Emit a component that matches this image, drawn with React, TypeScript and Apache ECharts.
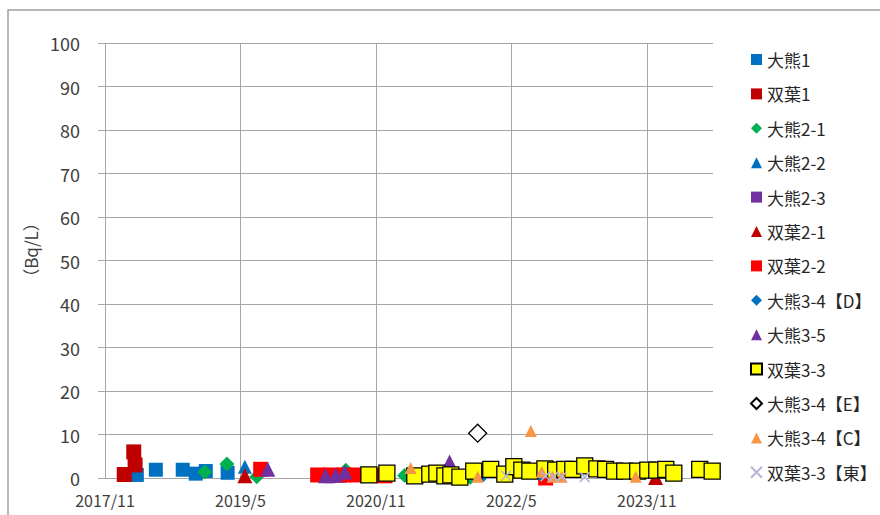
import React, { useEffect, useRef } from "react";
import * as echarts from "echarts";

const FONT = '"Noto Sans CJK JP", "Noto Sans", sans-serif';

// Axis
const X_START = "2017-11-01";
const X_MAX_MONTHS = 80.8;
const X_INTERVAL_MONTHS = 18;
const Y_MIN = 0;
const Y_MAX = 100;
const Y_INTERVAL = 10;
const Y_TITLE = "（Bq/L）";

// Series data: [date, Bq/L]
const ookuma1: [string, number][] = [
  ["2018-03-08", 0.7], ["2018-05-24", 1.9], ["2018-09-11", 1.9],
  ["2018-11-03", 1.0], ["2018-12-13", 1.6], ["2019-03-10", 1.2],
];
const futaba1: [string, number][] = [
  ["2018-01-18", 0.8], ["2018-02-26", 6.0], ["2018-03-01", 3.0],
];
const ookuma2_1: [string, number][] = [
  ["2018-12-09", 1.4], ["2019-03-07", 3.2], ["2019-07-06", 0.3],
  ["2020-07-01", 1.8], ["2021-02-26", 0.6], ["2021-11-18", 0.2],
];
const ookuma2_2: [string, number][] = [["2019-05-19", 2.6]];
const ookuma2_3: [string, number][] = [["2020-04-27", 0.3], ["2020-06-10", 0.4]];
const futaba2_1: [string, number][] = [["2019-05-19", 0.5], ["2023-12-06", 0.1]];
const futaba2_2: [string, number][] = [
  ["2019-07-22", 2.0], ["2020-03-09", 0.7], ["2020-05-01", 0.7],
  ["2020-06-23", 0.7], ["2020-08-16", 0.7], ["2020-10-15", 0.6],
  ["2020-12-07", 0.5], ["2022-09-18", 0.0],
];
const ookuma3_4D: [string, number][] = [
  ["2020-12-14", 0], ["2021-06-21", 0], ["2022-01-10", 0], ["2022-08-28", 0.1],
];
const ookuma3_5: [string, number][] = [
  ["2019-08-20", 2.0], ["2020-04-11", 0.5], ["2020-05-21", 0.7],
  ["2020-06-27", 1.4], ["2021-08-25", 3.7],
];
const futaba3_3: [string, number][] = [
  ["2020-10-03", 0.7], ["2020-12-15", 1.1], ["2021-04-06", 0.5],
  ["2021-06-06", 0.9], ["2021-07-04", 1.1], ["2021-08-06", 0.5],
  ["2021-08-30", 0.7], ["2021-10-06", 0.2], ["2021-12-01", 1.6],
  ["2022-02-09", 2.0], ["2022-04-05", 0.9], ["2022-05-11", 2.6],
  ["2022-06-13", 1.8], ["2022-07-15", 1.6], ["2022-09-15", 2.1],
  ["2022-10-28", 1.8], ["2022-12-04", 2.0], ["2023-01-06", 2.0],
  ["2023-02-24", 2.8], ["2023-04-12", 2.1], ["2023-05-17", 2.0],
  ["2023-06-23", 1.6], ["2023-08-03", 1.6], ["2023-09-25", 1.6],
  ["2023-11-05", 1.8], ["2023-12-11", 1.8], ["2024-01-17", 2.0],
  ["2024-02-19", 1.1], ["2024-06-02", 2.0], ["2024-07-22", 1.6],
];
const ookuma3_4E: [string, number][] = [["2021-12-17", 10.3]];
const ookuma3_4C: [string, number][] = [
  ["2021-03-20", 2.3], ["2021-12-17", 0.3], ["2022-07-19", 10.8],
  ["2022-09-02", 1.4], ["2022-10-16", 0.3], ["2022-11-22", 0.3],
  ["2023-09-17", 0.3],
];
const futaba3_3East: [string, number][] = [
  ["2022-04-10", 0.5], ["2022-09-18", 0.4], ["2022-10-19", 0.3],
  ["2022-11-22", 0.3], ["2023-02-24", 0.2],
];

const CROSS = "path://M0,0L10,10M10,0L0,10";

const SERIES = [
  { name: "大熊1", data: ookuma1, symbol: "rect", size: 14, color: "#0070C0" },
  { name: "双葉1", data: futaba1, symbol: "rect", size: 15, color: "#C00000" },
  { name: "大熊2-1", data: ookuma2_1, symbol: "diamond", size: 15, color: "#00B050" },
  { name: "大熊2-2", data: ookuma2_2, symbol: "triangle", size: 14, color: "#0070C0" },
  { name: "大熊2-3", data: ookuma2_3, symbol: "rect", size: 13, color: "#7030A0" },
  { name: "双葉2-1", data: futaba2_1, symbol: "triangle", size: 15, color: "#C00000" },
  { name: "双葉2-2", data: futaba2_2, symbol: "rect", size: 15, color: "#FF0000" },
  { name: "大熊3-4【D】", data: ookuma3_4D, symbol: "diamond", size: 8, color: "#0070C0" },
  { name: "大熊3-5", data: ookuma3_5, symbol: "triangle", size: 15, color: "#7030A0" },
  { name: "双葉3-3", data: futaba3_3, symbol: "rect", size: 16, color: "#FFFF00", border: "#000000", bw: 1.3 },
  { name: "大熊3-4【E】", data: ookuma3_4E, symbol: "diamond", size: 18, color: "#FFFFFF", border: "#000000", bw: 1.3 },
  { name: "大熊3-4【C】", data: ookuma3_4C, symbol: "triangle", size: 12, color: "#F79646" },
  { name: "双葉3-3【東】", data: futaba3_3East, symbol: CROSS, size: 10, color: "transparent", border: "#B4B4DC", bw: 1.5 },
];

function monthsSinceStart(d: string): number {
  const [y, m, dd] = d.split("-").map(Number);
  const [y0, m0] = X_START.split("-").map(Number);
  return (y - y0) * 12 + (m - m0) + (dd - 1) / 30.4;
}

function monthLabel(v: number): string {
  const [y0, m0] = X_START.split("-").map(Number);
  const total = y0 * 12 + (m0 - 1) + Math.round(v);
  return `${Math.floor(total / 12)}/${(total % 12) + 1}`;
}

export default function App() {
  const ref = useRef<HTMLDivElement>(null);
  useEffect(() => {
    document.body.style.margin = "0";
    if (!ref.current) return;
    const chart = echarts.init(ref.current, undefined, { renderer: "svg" });
    const series: any[] = SERIES.map((s) => ({
      name: s.name,
      type: "scatter",
      symbol: s.symbol,
      symbolSize: s.size,
      clip: false,
      itemStyle: {
        color: s.color,
        borderColor: (s as any).border,
        borderWidth: (s as any).bw || 0,
        opacity: 1,
      },
      data: s.data.map(([d, v]) => [monthsSinceStart(d), v]),
    }));
    chart.setOption({
      animation: false,
      textStyle: { fontFamily: FONT },
      grid: { left: 105, top: 43, right: 167, bottom: 37, containLabel: false },
      xAxis: {
        type: "value",
        min: 0,
        max: X_MAX_MONTHS,
        interval: X_INTERVAL_MONTHS,
        axisLine: { show: true, lineStyle: { color: "#A6A6A6", width: 1 } },
        axisTick: { show: false },
        axisLabel: {
          color: "#404040",
          fontSize: 16,
          fontFamily: FONT,
          margin: 14,
          showMaxLabel: false,
          formatter: (v: number) => (Math.abs(v % X_INTERVAL_MONTHS) < 1e-6 ? monthLabel(v) : ""),
        },
        splitLine: {
          show: true,
          showMinLine: false,
          showMaxLine: false,
          lineStyle: { color: "#A6A6A6", width: 1 },
        },
      },
      yAxis: {
        type: "value",
        min: Y_MIN,
        max: Y_MAX,
        interval: Y_INTERVAL,
        axisLine: { show: true, lineStyle: { color: "#A6A6A6", width: 1 } },
        axisTick: { show: true, inside: false, length: 7, lineStyle: { color: "#A6A6A6" } },
        axisLabel: { color: "#404040", fontSize: 18, fontFamily: FONT, margin: 25 },
        splitLine: { show: true, lineStyle: { color: "#A6A6A6", width: 1 } },
      },
      legend: {
        orient: "vertical",
        left: 745,
        top: 46,
        padding: 5,
        itemWidth: 11,
        itemHeight: 11,
        itemGap: 17.4,
        textStyle: { color: "#262626", fontSize: 17, fontFamily: FONT },
        data: SERIES.map((s) => s.name),
      },
      graphic: [
        {
          type: "rect",
          silent: true,
          shape: { x: 8, y: 10, width: 900, height: 540 },
          style: { fill: "none", stroke: "#A0A0A0", lineWidth: 1.5 },
        },
        {
          type: "text",
          x: 30,
          y: 250,
          rotation: Math.PI / 2,
          style: {
            text: Y_TITLE,
            font: `17px ${FONT}`,
            fill: "#404040",
            align: "center",
            verticalAlign: "middle",
          },
        },
      ],
      series,
    });
    return () => chart.dispose();
  }, []);
  return <div ref={ref} style={{ width: 880, height: 515 }} />;
}
